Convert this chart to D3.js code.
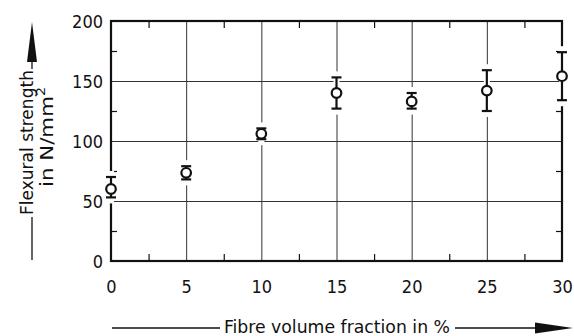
<!DOCTYPE html>
<html>
<head>
<meta charset="utf-8">
<script src="https://cdn.jsdelivr.net/npm/d3@7"></script>
<style>
  html, body { margin: 0; padding: 0; background: #fff; }
  svg { display: block; }
  text { font-family: 'Liberation Sans Narrow', 'DejaVu Sans Condensed', sans-serif; fill: #111; }
</style>
</head>
<body>
<svg id="chart" width="574" height="336"></svg>
<script>
// ---- data ----
const fibre = [0, 5, 10, 15, 20, 25, 30];
const strength = [60, 73.5, 106, 140, 133, 142, 154];
const errLow = [53, 68, 101.5, 127, 127, 125, 134];
const errHigh = [70, 79, 110.5, 153, 140, 159, 174];
const xTicks = [0, 5, 10, 15, 20, 25, 30];
const xMinor = [2.5, 7.5, 12.5, 17.5, 22.5, 27.5];
const yTicks = [0, 50, 100, 150, 200];
const yMinor = [25, 75, 125, 175];
const xTitle = "Fibre volume fraction in %";
const yTitle1 = "Flexural strength";
const yTitle2 = "in N/mm";

// ---- layout ----
const L = 111, R = 562, T = 21, B = 261;
const FONT = "'Liberation Sans Narrow', 'DejaVu Sans Condensed', sans-serif";
const svg = d3.select("#chart");
const x = d3.scaleLinear().domain([0, 30]).range([L, R]);
const y = d3.scaleLinear().domain([0, 200]).range([B, T]);

// grid
const grid = svg.append("g");
grid.append("g").attr("transform", `translate(0,${B})`)
  .call(d3.axisBottom(x).tickValues(xTicks.slice(1, -1)).tickSize(-(B - T)).tickFormat(""))
  .call(g => g.select(".domain").remove())
  .call(g => g.selectAll("line").attr("stroke", "#333").attr("stroke-width", 1));
grid.append("g").attr("transform", `translate(${L},0)`)
  .call(d3.axisLeft(y).tickValues(yTicks.slice(1, -1)).tickSize(-(R - L)).tickFormat(""))
  .call(g => g.select(".domain").remove())
  .call(g => g.selectAll("line").attr("stroke", "#333").attr("stroke-width", 1));

// minor ticks (inward)
function minor(axis, tr, vals, size) {
  svg.append("g").attr("transform", tr)
    .call(axis.tickValues(vals).tickSize(size).tickFormat(""))
    .call(g => g.select(".domain").remove())
    .call(g => g.selectAll("line").attr("stroke", "#111").attr("stroke-width", 1.2));
}
minor(d3.axisTop(x), `translate(0,${T})`, xMinor, -7);
minor(d3.axisBottom(x), `translate(0,${B})`, xMinor, -7);
minor(d3.axisLeft(y), `translate(${L},0)`, yMinor, -6);
minor(d3.axisRight(y), `translate(${R},0)`, yMinor, -6);

// frame
svg.append("rect").attr("x", L).attr("y", T).attr("width", R - L).attr("height", B - T)
  .attr("fill", "none").attr("stroke", "#111").attr("stroke-width", 2.2);

// tick labels
svg.append("g").attr("transform", `translate(0,${B})`)
  .call(d3.axisBottom(x).tickValues(xTicks).tickSize(0).tickPadding(19).tickFormat(d3.format("d")))
  .call(g => g.select(".domain").remove())
  .call(g => g.selectAll("text").attr("font-size", 18).attr("fill", "#111").style("font-family", FONT));
svg.append("g").attr("transform", `translate(${L},0)`)
  .call(d3.axisLeft(y).tickValues(yTicks).tickSize(0).tickPadding(8).tickFormat(d3.format("d")))
  .call(g => g.select(".domain").remove())
  .call(g => g.selectAll("text").attr("font-size", 18).attr("fill", "#111").attr("dy", "0.36em")
    .style("font-family", FONT));

// data points with error bars
const pts = fibre.map((f, i) => ({ f, v: strength[i], lo: errLow[i], hi: errHigh[i] }));
const pg = svg.append("g");
// white gaps behind the bars (break the frame / grid lines)
pg.selectAll("rect.gap").data(pts).join("rect")
  .attr("x", d => x(d.f) - 3).attr("width", 6)
  .attr("y", d => y(d.hi) - 6).attr("height", d => y(d.lo) - y(d.hi) + 12)
  .attr("fill", "#fff");
pg.selectAll("line.bar").data(pts).join("line")
  .attr("x1", d => x(d.f)).attr("x2", d => x(d.f))
  .attr("y1", d => y(d.hi)).attr("y2", d => y(d.lo))
  .attr("stroke", "#111").attr("stroke-width", 2.2);
pg.selectAll("line.caphi").data(pts).join("line")
  .attr("x1", d => x(d.f) - 5).attr("x2", d => x(d.f) + 5)
  .attr("y1", d => y(d.hi)).attr("y2", d => y(d.hi))
  .attr("stroke", "#111").attr("stroke-width", 2.2);
pg.selectAll("line.caplo").data(pts).join("line")
  .attr("x1", d => x(d.f) - 5).attr("x2", d => x(d.f) + 5)
  .attr("y1", d => y(d.lo)).attr("y2", d => y(d.lo))
  .attr("stroke", "#111").attr("stroke-width", 2.2);
pg.selectAll("circle").data(pts).join("circle")
  .attr("cx", d => x(d.f)).attr("cy", d => y(d.v)).attr("r", 4.8)
  .attr("fill", "#fff").attr("stroke", "#111").attr("stroke-width", 2.2);

// x title with arrow
const xt = svg.append("g");
xt.append("text").attr("x", 337).attr("y", 333).attr("text-anchor", "middle")
  .attr("font-size", 18).attr("textLength", 226).attr("lengthAdjust", "spacingAndGlyphs")
  .text(xTitle);
xt.append("line").attr("x1", 112).attr("x2", 220).attr("y1", 328).attr("y2", 328)
  .attr("stroke", "#111").attr("stroke-width", 1.3);
xt.append("line").attr("x1", 455).attr("x2", 540).attr("y1", 328).attr("y2", 328)
  .attr("stroke", "#111").attr("stroke-width", 1.3);
xt.append("path").attr("d", "M535,322.5 L573,328 L535,333.5 Z").attr("fill", "#111");

// y title with arrow
const yt = svg.append("g");
yt.append("text").attr("transform", "translate(32.5,142.5) rotate(-90)").attr("text-anchor", "middle")
  .attr("font-size", 18).attr("textLength", 145).attr("lengthAdjust", "spacingAndGlyphs")
  .text(yTitle1);
const t2 = yt.append("text").attr("transform", "translate(53,137) rotate(-90)").attr("text-anchor", "middle")
  .attr("font-size", 18).attr("textLength", 100).attr("lengthAdjust", "spacingAndGlyphs");
t2.append("tspan").text(yTitle2);
t2.append("tspan").attr("font-size", 12).attr("dy", "-0.7em").text("2");
yt.append("line").attr("x1", 32).attr("x2", 32).attr("y1", 217).attr("y2", 260)
  .attr("stroke", "#111").attr("stroke-width", 1.3);
yt.append("line").attr("x1", 32).attr("x2", 32).attr("y1", 58).attr("y2", 69)
  .attr("stroke", "#111").attr("stroke-width", 1.3);
yt.append("path").attr("d", "M27,62 L32,22 L37,62 Z").attr("fill", "#111");
</script>
</body>
</html>
